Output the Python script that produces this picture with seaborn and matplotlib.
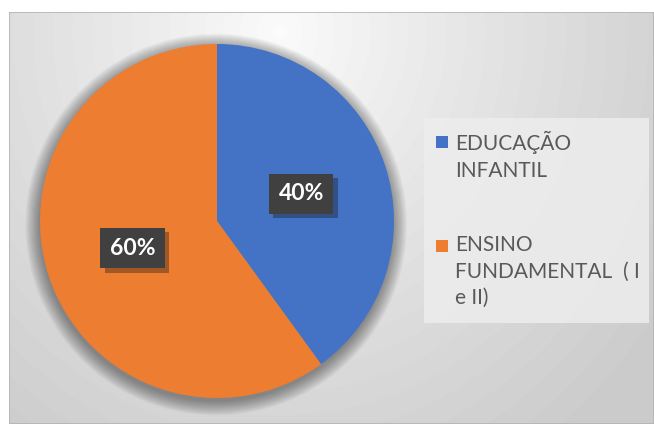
import numpy as np
import matplotlib
matplotlib.use("Agg")
import matplotlib.pyplot as plt
import matplotlib.patheffects as pe
from matplotlib.patches import Circle, Rectangle
import seaborn as sns

sns.set_theme(style="white")
plt.rcParams["font.family"] = ["Lato", "DejaVu Sans"]

# data
categories = ["EDUCAÇÃO\nINFANTIL", "ENSINO\nFUNDAMENTAL  ( I\ne II)"]
shares = [40, 60]
colors = ["#4472C4", "#ED7D31"]

W, H = 654, 424
fig = plt.figure(figsize=(W / 100, H / 100), dpi=100, facecolor="white")

# gradient background panel
bg = fig.add_axes([9 / W, 0, (W - 9) / W, (H - 12) / H])
yy, xx = np.mgrid[0:412, 0:645]
d = np.sqrt(((xx - 270) / 1.0) ** 2 + ((yy - 20) / 1.1) ** 2) / 470
d = np.clip(d, 0, 1)
shade = 0.985 - 0.19 * d ** 0.9
bg.imshow(shade, cmap="gray", vmin=0, vmax=1, aspect="auto",
          extent=(0, 1, 0, 1), origin="upper")
bg.set_xlim(0, 1)
bg.set_ylim(0, 1)
bg.axis("off")
bg.add_patch(Rectangle((0, 0), 1, 1, transform=bg.transAxes, fill=False,
                       edgecolor="#b4b4b4", linewidth=1.2))

# pie axes: centre (217, 221), radius 177 px
cx, cy, r = 217, 221, 177
ax = fig.add_axes([(cx - r) / W, (H - cy - r) / H, 2 * r / W, 2 * r / H])

# soft shadow behind the pie
for k in range(14):
    ax.add_patch(Circle((-0.005, -0.02), 1.0 + 0.006 * k, color="black",
                        alpha=0.03, zorder=0, clip_on=False, linewidth=0))

wedges, _, autotexts = ax.pie(
    shares, colors=colors, startangle=90, counterclock=False,
    autopct="%1.0f%%", pctdistance=0.5, radius=1.0,
    wedgeprops=dict(linewidth=0),
    textprops=dict(color="white", fontsize=16.5, fontweight="bold"),
)
ax.set_xlim(-1, 1)
ax.set_ylim(-1, 1)
ax.axis("off")
for t in autotexts:
    t.set_bbox(dict(boxstyle="square,pad=0.42", facecolor="#404040",
                    edgecolor="none"))
    t.get_bbox_patch().set_path_effects(
        [pe.SimplePatchShadow(offset=(3, -3), alpha=0.35), pe.Normal()])
    t.set_zorder(5)

# legend panel
fig.patches.append(Rectangle((424 / W, 1 - 323 / H), 225 / W, 205 / H,
                             transform=fig.transFigure, facecolor="#ededed",
                             edgecolor="none", alpha=0.85, zorder=3))
text_tops = [131, 235]
for w, label, top in zip(wedges, categories, text_tops):
    fig.patches.append(Rectangle((436 / W, 1 - (top + 17) / H), 12 / W, 12 / H,
                                 transform=fig.transFigure,
                                 facecolor=w.get_facecolor(),
                                 edgecolor="none", zorder=4))
    fig.text(455 / W, 1 - top / H, label, ha="left", va="top",
             fontsize=15, color="#595959", linespacing=1.4, zorder=5)

fig.savefig("out.png", dpi=100, facecolor="white")
